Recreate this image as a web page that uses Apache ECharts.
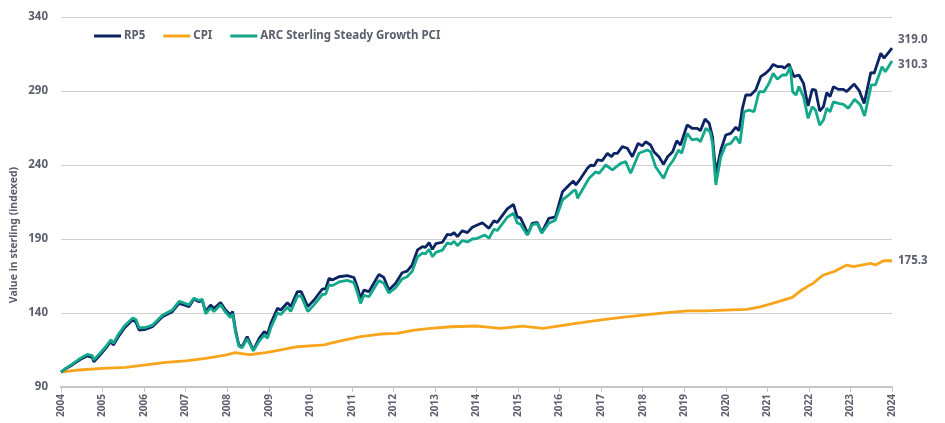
<!DOCTYPE html>
<html>
<head>
<meta charset="utf-8">
<script src="https://cdn.jsdelivr.net/npm/echarts@6/dist/echarts.min.js"></script>
<style>html,body{margin:0;padding:0;background:#fff}#c{width:945px;height:423px}</style>
</head>
<body>
<div id="c"></div>
<script>
const seriesNames = ['RP5', 'CPI', 'ARC Sterling Steady Growth PCI'];
const yTicks = [90, 140, 190, 240, 290, 340];
const xTicks = [2004, 2024];
const endLabels = ['319.0', '175.3', '310.3'];

const rp5Years = [2004.00,2004.12,2004.27,2004.47,2004.63,2004.75,2004.79,2004.96,2005.07,2005.20,2005.26,2005.38,2005.52,2005.72,2005.80,2005.88,2006.04,2006.20,2006.44,2006.68,2006.84,2006.96,2007.08,2007.20,2007.32,2007.40,2007.48,2007.60,2007.68,2007.84,2007.96,2008.08,2008.13,2008.20,2008.28,2008.36,2008.48,2008.63,2008.77,2008.89,2008.97,2009.05,2009.21,2009.29,2009.45,2009.53,2009.69,2009.78,2009.94,2010.09,2010.29,2010.37,2010.45,2010.53,2010.69,2010.89,2011.05,2011.13,2011.21,2011.29,2011.41,2011.65,2011.77,2011.89,2012.05,2012.21,2012.33,2012.45,2012.58,2012.70,2012.77,2012.86,2012.94,2013.02,2013.18,2013.30,2013.38,2013.46,2013.54,2013.66,2013.78,2013.90,2014.02,2014.14,2014.30,2014.42,2014.50,2014.74,2014.89,2014.98,2015.06,2015.24,2015.34,2015.46,2015.57,2015.74,2015.90,2016.07,2016.23,2016.33,2016.39,2016.51,2016.67,2016.75,2016.83,2016.91,2017.03,2017.15,2017.25,2017.31,2017.39,2017.51,2017.63,2017.75,2017.89,2017.99,2018.07,2018.19,2018.27,2018.39,2018.50,2018.60,2018.72,2018.82,2018.91,2019.07,2019.19,2019.31,2019.39,2019.50,2019.60,2019.68,2019.76,2019.88,2020.00,2020.12,2020.24,2020.32,2020.40,2020.48,2020.60,2020.72,2020.84,2020.96,2021.06,2021.14,2021.24,2021.36,2021.41,2021.52,2021.64,2021.76,2021.87,2021.98,2022.08,2022.16,2022.26,2022.35,2022.43,2022.51,2022.59,2022.71,2022.83,2022.91,2023.09,2023.21,2023.33,2023.49,2023.57,2023.73,2023.81,2024.00];
const rp5Values = [100,102.5,104.9,108.7,111,110,107,112.3,116,120.6,118.4,124,129.6,135.3,134,128.5,129,130.7,137.5,140.9,146.5,145.4,144.3,149.5,147.6,148.6,140.9,145.4,143,147,142,138.6,141,128.5,118.4,117.2,124,115,122.9,127.4,125.8,133,143.2,142,147,144.3,154.4,154.4,144.3,148.8,156.2,156.5,163.4,162.3,164.5,165.2,164,157.8,149.9,155.5,154.4,166.1,164,155.5,160,167.2,168.3,172.4,182.6,184.8,184.3,187.5,183,186.8,187.8,193.2,192.7,194.3,191.6,195.6,194.3,197.9,199.5,201,197.2,202.4,201.2,210.3,213.4,205,204.3,193.4,200.6,201.2,194.3,204,205,222,226.5,229.2,226.5,231,237.8,240,239.4,243.4,243,247.9,245.6,247.9,247.9,252.4,251.3,245.6,254.6,252.9,255.7,253.5,249,245.6,240.5,245.6,249,256.4,253.5,267,264.8,264.8,263.2,271.1,268.2,259.1,234.4,250.1,260.3,261.4,265.5,263.2,278.3,287.3,287.3,290.7,299.7,302,304.7,308,306.5,306.5,305.4,308.2,299.7,300.8,295.2,279.9,291.1,290.6,276.5,279.4,288.9,286.2,292.9,291.1,291.1,289.6,294.7,290.3,281.6,302.4,302,315.5,312.2,319.0];

const pciYears = [2004.00,2004.12,2004.27,2004.47,2004.63,2004.75,2004.79,2004.96,2005.07,2005.20,2005.26,2005.38,2005.52,2005.72,2005.80,2005.88,2006.04,2006.20,2006.44,2006.68,2006.84,2006.96,2007.08,2007.20,2007.32,2007.40,2007.48,2007.60,2007.68,2007.84,2007.96,2008.08,2008.13,2008.20,2008.28,2008.36,2008.48,2008.63,2008.77,2008.89,2008.97,2009.05,2009.21,2009.29,2009.45,2009.53,2009.69,2009.78,2009.94,2010.09,2010.29,2010.37,2010.45,2010.53,2010.69,2010.89,2011.05,2011.13,2011.21,2011.29,2011.41,2011.65,2011.77,2011.89,2012.05,2012.21,2012.33,2012.45,2012.58,2012.70,2012.77,2012.86,2012.94,2013.02,2013.18,2013.30,2013.38,2013.46,2013.54,2013.66,2013.78,2013.90,2014.02,2014.20,2014.30,2014.42,2014.50,2014.74,2014.89,2014.98,2015.06,2015.22,2015.34,2015.46,2015.57,2015.74,2015.90,2016.07,2016.23,2016.33,2016.39,2016.43,2016.59,2016.71,2016.87,2016.95,2017.11,2017.27,2017.47,2017.59,2017.71,2017.91,2018.11,2018.19,2018.31,2018.50,2018.62,2018.74,2018.86,2018.94,2019.07,2019.19,2019.31,2019.39,2019.52,2019.62,2019.68,2019.76,2019.88,2020.00,2020.12,2020.24,2020.34,2020.44,2020.56,2020.68,2020.80,2020.92,2021.04,2021.14,2021.24,2021.36,2021.46,2021.55,2021.61,2021.69,2021.76,2021.87,2021.98,2022.08,2022.16,2022.26,2022.35,2022.43,2022.51,2022.59,2022.71,2022.83,2022.95,2023.10,2023.24,2023.34,2023.50,2023.60,2023.76,2023.84,2024.00];
const pciValues = [100,102.8,105.5,109.5,112,111.2,108.3,113.5,117,121.8,119.6,125.5,131,136.5,135.8,130,130.2,131.8,138.5,142,147.8,146.8,145.5,150,148.5,149.3,139.5,143.5,141,145.5,140.5,137,139.5,127,117.5,116.5,122.5,114.5,121,125,123,130,140,139,144,141,151.4,151.5,141,145.5,152.5,152.8,159,158.5,161,162,160.5,154,146.5,152,151,162,160,153.5,157,163,164.5,168,178,180.5,180,183,178,181,182.5,187.5,186.5,188.5,185.5,189,188,190,190.5,192.7,190.5,196.6,195.7,204.7,207.4,200.9,200,192.7,199.5,200.6,193.9,200.6,202.9,216.4,220,222.5,223,217.5,225.3,231,235.5,234.4,240,236.7,241.1,242.3,234.4,247.9,250.1,249,238.8,231,238.8,243.4,250.1,248,261.4,256.9,257.6,255.8,264.8,262.6,255,226.5,245.6,253.5,254.6,259.1,254.6,276,277.1,276,289.5,289.5,295.2,301.9,297.9,300.8,300.8,306.4,289.5,287.3,293,286.2,271.5,279.4,277.1,267,270.4,278.3,276,282.7,281.6,281,278.3,284.4,280.5,273.1,294.1,294.1,306.4,303,310.3];

const cpiYears = [2004.00,2004.43,2004.99,2005.56,2006.04,2006.52,2007.00,2007.48,2007.96,2008.20,2008.52,2008.93,2009.13,2009.69,2010.33,2010.65,2011.21,2011.69,2012.09,2012.50,2012.90,2013.38,2014.02,2014.58,2015.10,2015.60,2016.40,2017.00,2017.50,2018.40,2019.07,2019.50,2020.00,2020.50,2020.80,2021.00,2021.30,2021.60,2021.80,2022.00,2022.10,2022.25,2022.35,2022.60,2022.91,2023.07,2023.49,2023.60,2023.80,2024.00];
const cpiValues = [100,101.5,102.6,103.3,104.9,106.6,107.6,109.4,111.6,113.2,111.8,113.2,114.3,117.2,118.4,120.6,124,125.8,126.2,128.5,129.6,130.7,131.2,129.6,131.2,129.6,133,135.3,137,139.8,141.4,141.5,142,142.5,144,145.5,148,150.5,155,158.5,160,163.6,165.7,167.9,172.4,171.3,173.6,172.4,175.3,175.3];

const BASE = 90;
const txt = '#5a5e6c';
const FONT = '"Noto Sans", "DejaVu Sans", sans-serif';
function pairs(xs, ys) { return xs.map((x, i) => [x, ys[i] - BASE]); }

const chart = echarts.init(document.getElementById('c'), null, {renderer: 'canvas'});
const colors = ['#0c2463', '#f8a51c', '#14a88b'];
const datas = [pairs(rp5Years, rp5Values), pairs(cpiYears, cpiValues), pairs(pciYears, pciValues)];
const labelOffsets = [[0, -8], [0, 0], [0, 4]];

chart.setOption({
  animation: false,
  color: colors,
  grid: {left: 61, right: 53, top: 17, bottom: 36, containLabel: false},
  legend: {
    left: 89, top: 25,
    icon: 'rect', itemWidth: 27, itemHeight: 3, itemGap: 18,
    textStyle: {color: txt, fontFamily: FONT, fontWeight: 'bold', fontSize: 11.5, padding: [0, 0, 0, -2]},
    data: seriesNames
  },
  xAxis: {
    type: 'value', min: xTicks[0], max: xTicks[1], interval: 1,
    axisLine: {show: true, lineStyle: {color: '#c6c6c6', width: 2}},
    axisTick: {show: true, length: 5, lineStyle: {color: '#c6c6c6', width: 1}},
    splitLine: {show: false},
    axisLabel: {rotate: 90, color: txt, fontFamily: FONT, fontWeight: 'bold', fontSize: 10, margin: 7,
      formatter: v => String(v)}
  },
  yAxis: {
    type: 'value', min: yTicks[0] - BASE, max: yTicks[yTicks.length - 1] - BASE, interval: 50,
    axisLine: {show: false}, axisTick: {show: false},
    splitLine: {show: true, lineStyle: {color: '#cfcfcf', width: 1}},
    axisLabel: {color: txt, fontFamily: FONT, fontWeight: 'bold', fontSize: 11.5, margin: 13,
      formatter: v => String(v + BASE)}
  },
  graphic: [{
    type: 'text', x: 14, y: 235, rotation: Math.PI / 2,
    style: {text: 'Value in sterling (indexed)', fill: txt, font: 'bold 10.5px "Noto Sans"', textAlign: 'center', textVerticalAlign: 'middle'}
  }],
  series: seriesNames.map((name, i) => ({
    name, type: 'line', data: datas[i], showSymbol: false, symbol: 'none',
    lineStyle: {width: 2.8, color: colors[i]},
    z: i === 1 ? 1 : (i === 0 ? 2 : 3),
    endLabel: {show: true, formatter: () => endLabels[i], color: txt, fontFamily: FONT,
      fontWeight: 'bold', fontSize: 11.5, distance: 6, offset: labelOffsets[i]}
  }))
});
</script>
</body>
</html>
